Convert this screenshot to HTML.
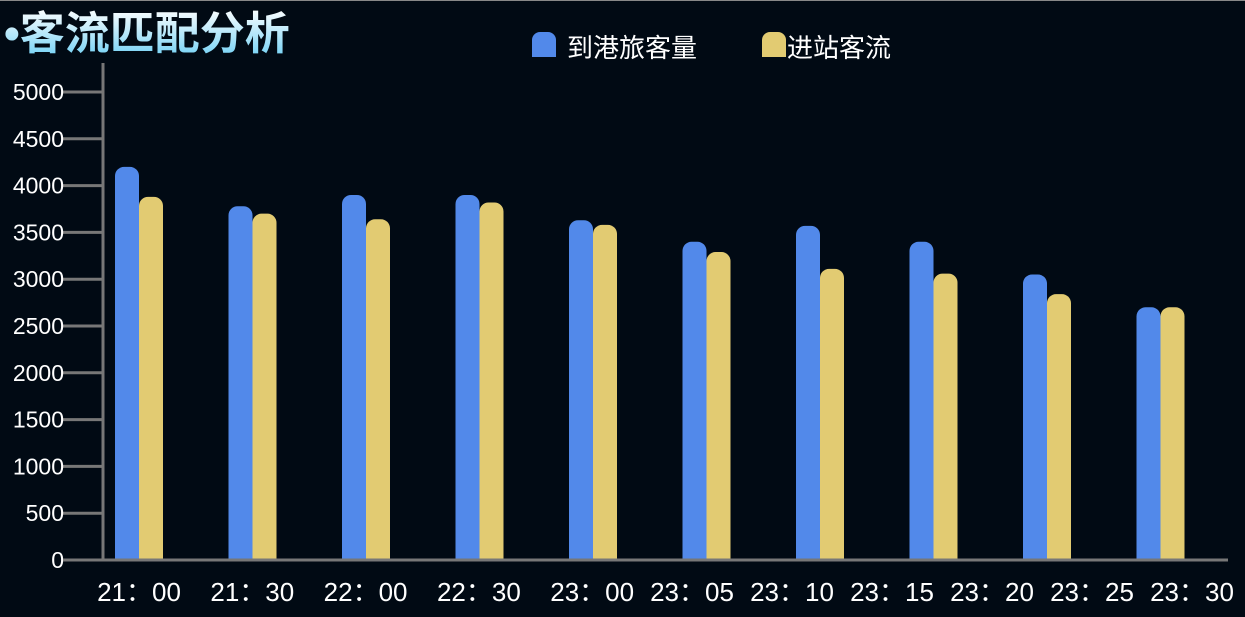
<!DOCTYPE html>
<html><head><meta charset="utf-8"><style>
body{margin:0;background:#010a14;width:1245px;height:612px;overflow:hidden;font-family:"Liberation Sans","Noto Sans CJK SC",sans-serif;}
</style></head><body>
<svg id="c" width="1245" height="612">
<defs><linearGradient id="tg" x1="0" y1="0" x2="0" y2="1"><stop offset="0" stop-color="#ffffff"/><stop offset="1" stop-color="#6fd0f5"/></linearGradient></defs>
<rect x="0" y="0" width="1245" height="1" fill="#888"/>
<text x="4" y="49" font-size="45" font-weight="bold" fill="url(#tg)" font-family="'Liberation Sans','Noto Sans CJK SC',sans-serif">•客流匹配分析</text>
<g>
<path d="M532,57 V40 a8,8 0 0 1 8,-8 h8 a8,8 0 0 1 8,8 V57 Z" fill="#5289ea"/>
<text x="567" y="57" font-size="26" fill="#fff">到港旅客量</text>
<path d="M762,57 V40 a8,8 0 0 1 8,-8 h8 a8,8 0 0 1 8,8 V57 Z" fill="#e2cb72"/>
<text x="787" y="57" font-size="26" fill="#fff">进站客流</text>
</g>
<g id="g"></g>
</svg>
<script>
const categories=["21：00","21：30","22：00","22：30","23：00","23：05","23：10","23：15","23：20","23：25"];
const arrivals=[4200,3780,3900,3900,3630,3400,3570,3400,3050,2700];
const entries=[3880,3700,3640,3820,3580,3290,3110,3060,2840,2700];
const yTicks=[0,500,1000,1500,2000,2500,3000,3500,4000,4500,5000];
const xLabels=["21：00","21：30","22：00","22：30","23：00","23：05","23：10","23：15","23：20","23：25","23：30"];
const NS="http://www.w3.org/2000/svg";
const g=document.getElementById('g');
function y(v){return 560-v*0.0936;}
function bandX(i){return 103+i*113.5+12;}
function mk(t,a){const e=document.createElementNS(NS,t);for(const k in a)e.setAttribute(k,a[k]);g.appendChild(e);return e;}
yTicks.forEach(v=>{
 const l=mk('line',{x1:63,x2:103,y1:y(v),y2:y(v),stroke:'#777','stroke-width':3});
 
 
 const t=mk('text',{x:64,y:y(v)+8,'text-anchor':'end','font-size':23,fill:'#fff'});
 t.textContent=v;
 
 
});
function bar(x,v,c,n){
 const top=y(v),w=24,r=9;
 const p=mk('path',{d:`M${x},560 V${top+r} a${r},${r} 0 0 1 ${r},-${r} h${w-2*r} a${r},${r} 0 0 1 ${r},${r} V560 Z`,fill:c});
 
 
}
categories.forEach((c,i)=>{
 bar(bandX(i),arrivals[i],'#5289ea','bar-arrivals-'+i);
 bar(bandX(i)+24,entries[i],'#e2cb72','bar-entries-'+i);
});
const ya=mk('line',{x1:103,x2:103,y1:63,y2:561,stroke:'#777','stroke-width':3});


const xa=mk('line',{x1:63,x2:1228,y1:560,y2:560,stroke:'#777','stroke-width':3});


xLabels.forEach((s,i)=>{
 const cx=i<5?139+i*113.3:592+(i-4)*100;
 const t=mk('text',{x:cx,y:601,'text-anchor':'middle','font-size':26,fill:'#fff'});
 t.textContent=s;
 
 
});
</script>
</body></html>
